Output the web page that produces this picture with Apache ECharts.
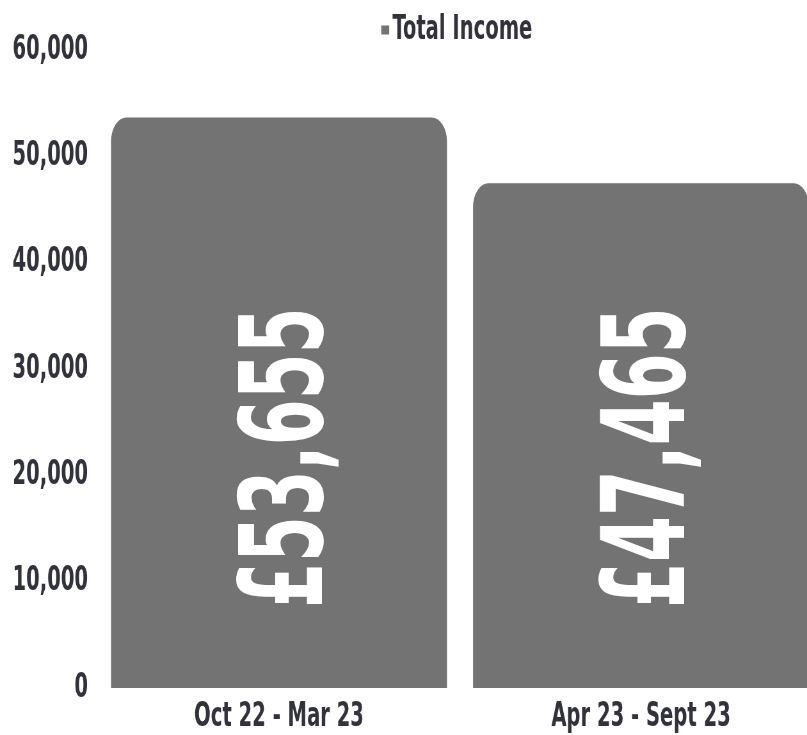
<!DOCTYPE html>
<html>
<head>
<meta charset="utf-8">
<script src="https://cdn.jsdelivr.net/npm/echarts@6/dist/echarts.min.js"></script>
<style>
  html, body { margin: 0; padding: 0; background: #ffffff; overflow: hidden; }
  #frame { width: 807px; height: 735px; overflow: hidden; }
  /* no condensed face is installed, so the chart is drawn wide and squeezed to 807px */
  #chart { width: 1261px; height: 735px; transform: scaleX(0.64); transform-origin: 0 0; }
</style>
</head>
<body>
<div id="frame"><div id="chart"></div></div>
<script>
// values
const categories = ['Oct 22 - Mar 23', 'Apr 23 - Sept 23']
const totalIncome = [53655, 47465]
const seriesName = 'Total Income'

const SX = 0.64 // horizontal squeeze of #chart
const FONT = "'DejaVu Sans Condensed', 'DejaVu Sans', sans-serif"
const TEXT = '#32323c'
const BAR = '#737373'

const px = (v) => v / SX // screen px -> unsqueezed px
const money = (v) => '£' + v.toLocaleString('en-GB')

const chart = echarts.init(document.getElementById('chart'))

// vertical value text inside each bar; the squeeze runs across it, so undo that
// and condense it along its own length instead
function renderValueLabel(params, api) {
  const p = api.coord([api.value(0), 0])
  return {
    type: 'text',
    x: p[0] + px(13),
    y: p[1] - 80,
    rotation: Math.PI / 2,
    scaleX: 0.655,
    scaleY: 1.03 / SX,
    silent: true,
    style: {
      text: money(api.value(1)),
      fill: '#ffffff',
      font: `bold 112px ${FONT}`,
      align: 'left',
      verticalAlign: 'middle',
    },
  }
}

chart.setOption({
  backgroundColor: '#ffffff',
  animation: false,
  legend: {
    data: [seriesName],
    left: px(378),
    top: 8,
    icon: 'rect',
    itemWidth: px(8),
    itemHeight: 9,
    itemGap: px(7),
    textStyle: { color: TEXT, fontFamily: FONT, fontWeight: 'bold', fontSize: 34 },
  },
  grid: { left: px(98), top: 50, bottom: 47, width: px(724), outerBoundsMode: 'none', containLabel: false },
  xAxis: {
    type: 'category',
    data: categories,
    axisLine: { show: false },
    axisTick: { show: false },
    axisLabel: { color: TEXT, fontFamily: FONT, fontWeight: 'bold', fontSize: 34, margin: 12 },
  },
  yAxis: {
    type: 'value',
    min: 0,
    max: 60000,
    interval: 10000,
    splitLine: { show: false },
    axisLine: { show: false },
    axisTick: { show: false },
    axisLabel: {
      color: TEXT,
      fontFamily: FONT,
      fontWeight: 'bold',
      fontSize: 34,
      margin: px(10),
      formatter: (v) => v.toLocaleString('en-GB'),
    },
  },
  series: [
    {
      name: seriesName,
      type: 'bar',
      data: totalIncome,
      barCategoryGap: '7.2%',
      itemStyle: { color: BAR, borderRadius: [24, 24, 0, 0] },
    },
    {
      name: 'value labels',
      type: 'custom',
      data: totalIncome.map((v, i) => [i, v]),
      encode: { x: 0, y: 1 },
      renderItem: renderValueLabel,
      z: 5,
    },
  ],
})
</script>
</body>
</html>
